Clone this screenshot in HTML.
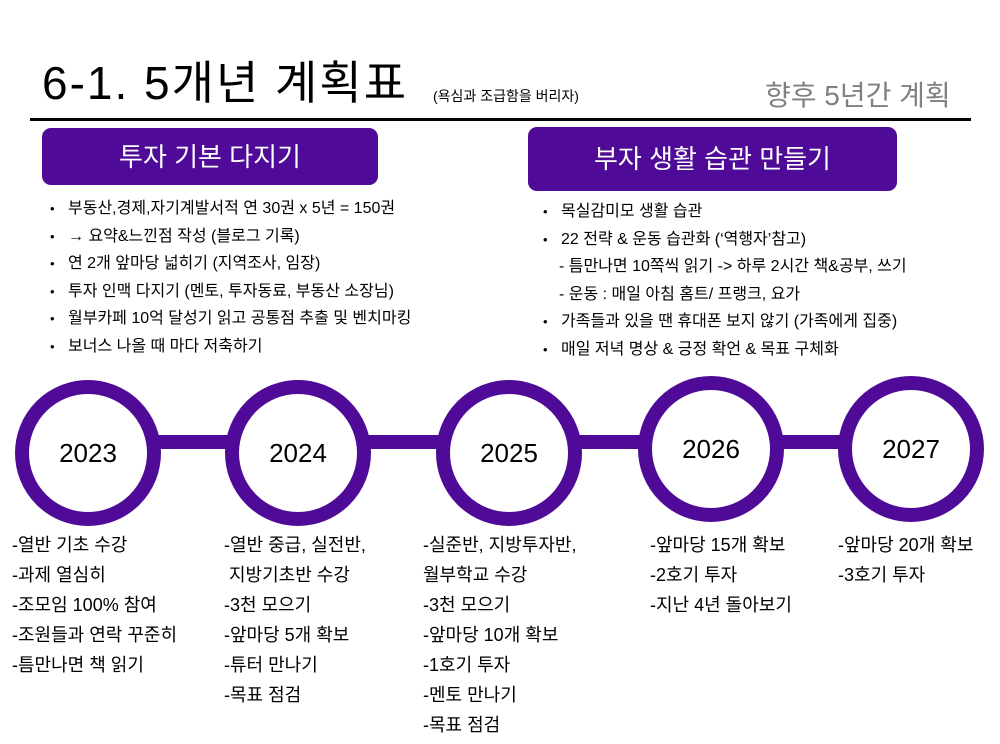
<!DOCTYPE html>
<html><head><meta charset="utf-8"><style>
*{margin:0;padding:0;box-sizing:border-box}
body{width:1000px;height:744px;background:#fff;position:relative;overflow:hidden;font-family:"Liberation Sans","Noto Sans CJK KR",sans-serif;color:#000}
.a{position:absolute;white-space:nowrap}
.box{position:absolute;background:#4f0b98;border-radius:9px;color:#fff;text-align:center}
.ul{position:absolute;font-size:16px;line-height:27.5px;white-space:nowrap}
.ul div{position:relative;padding-left:18px}
.ul div.b:before{content:"•";position:absolute;left:0;font-size:13px}
.ul div.s{padding-left:0}
.ring{position:absolute;width:146px;height:146px;border:14px solid #4f0b98;border-radius:50%;background:#fff;font-size:26px;display:flex;align-items:center;justify-content:center}
.bar{position:absolute;background:#4f0b98;height:14px;top:435px}
.lst{position:absolute;font-size:18px;line-height:30px;white-space:nowrap}
</style></head><body>
<div class="a" style="left:42px;top:54px;font-size:46px;line-height:58px;letter-spacing:2px">6-1. 5개년 계획표</div>
<div class="a" style="left:433px;top:86px;font-size:14px">(욕심과 조급함을 버리자)</div>
<div class="a" style="left:765px;top:74px;font-size:28px;color:#808080">향후 5년간 계획</div>
<div class="a" style="left:30px;top:118px;width:941px;height:3px;background:#000"></div>
<div class="box" style="left:42px;top:128px;width:336px;height:57px;font-size:26px;line-height:58px">투자 기본 다지기</div>
<div class="box" style="left:528px;top:127px;width:369px;height:64px;font-size:26px;line-height:64px">부자 생활 습관 만들기</div>
<div class="ul" style="left:50px;top:195px">
<div class="b">부동산,경제,자기계발서적 연 30권 x 5년 = 150권</div>
<div class="b">→ 요약&amp;느낀점 작성 (블로그 기록)</div>
<div class="b">연 2개 앞마당 넓히기 (지역조사, 임장)</div>
<div class="b">투자 인맥 다지기 (멘토, 투자동료, 부동산 소장님)</div>
<div class="b">월부카페 10억 달성기 읽고 공통점 추출 및 벤치마킹</div>
<div class="b">보너스 나올 때 마다 저축하기</div>
</div>
<div class="ul" style="left:543px;top:198px">
<div class="b">목실감미모 생활 습관</div>
<div class="b">22 전략 &amp; 운동 습관화 (‘역행자’참고)</div>
<div class="s" style="margin-left:16px">- 틈만나면 10쪽씩 읽기 -&gt; 하루 2시간 책&amp;공부, 쓰기</div>
<div class="s" style="margin-left:16px">- 운동 : 매일 아침 홈트/ 프랭크, 요가</div>
<div class="b">가족들과 있을 땐 휴대폰 보지 않기 (가족에게 집중)</div>
<div class="b">매일 저녁 명상 &amp; 긍정 확언 &amp; 목표 구체화</div>
</div>
<div class="bar" style="left:150px;width:780px"></div>
<div class="ring" style="left:15px;top:380px">2023</div>
<div class="ring" style="left:225px;top:380px">2024</div>
<div class="ring" style="left:436px;top:380px">2025</div>
<div class="ring" style="left:638px;top:376px">2026</div>
<div class="ring" style="left:838px;top:376px">2027</div>
<div class="lst" style="left:12px;top:530px">-열반 기초 수강<br>-과제 열심히<br>-조모임 100% 참여<br>-조원들과 연락 꾸준히<br>-틈만나면 책 읽기</div>
<div class="lst" style="left:224px;top:530px">-열반 중급, 실전반,<br>&nbsp;지방기초반 수강<br>-3천 모으기<br>-앞마당 5개 확보<br>-튜터 만나기<br>-목표 점검</div>
<div class="lst" style="left:423px;top:530px">-실준반, 지방투자반,<br>월부학교 수강<br>-3천 모으기<br>-앞마당 10개 확보<br>-1호기 투자<br>-멘토 만나기<br>-목표 점검</div>
<div class="lst" style="left:650px;top:530px">-앞마당 15개 확보<br>-2호기 투자<br>-지난 4년 돌아보기</div>
<div class="lst" style="left:838px;top:530px">-앞마당 20개 확보<br>-3호기 투자</div>
</body></html>
